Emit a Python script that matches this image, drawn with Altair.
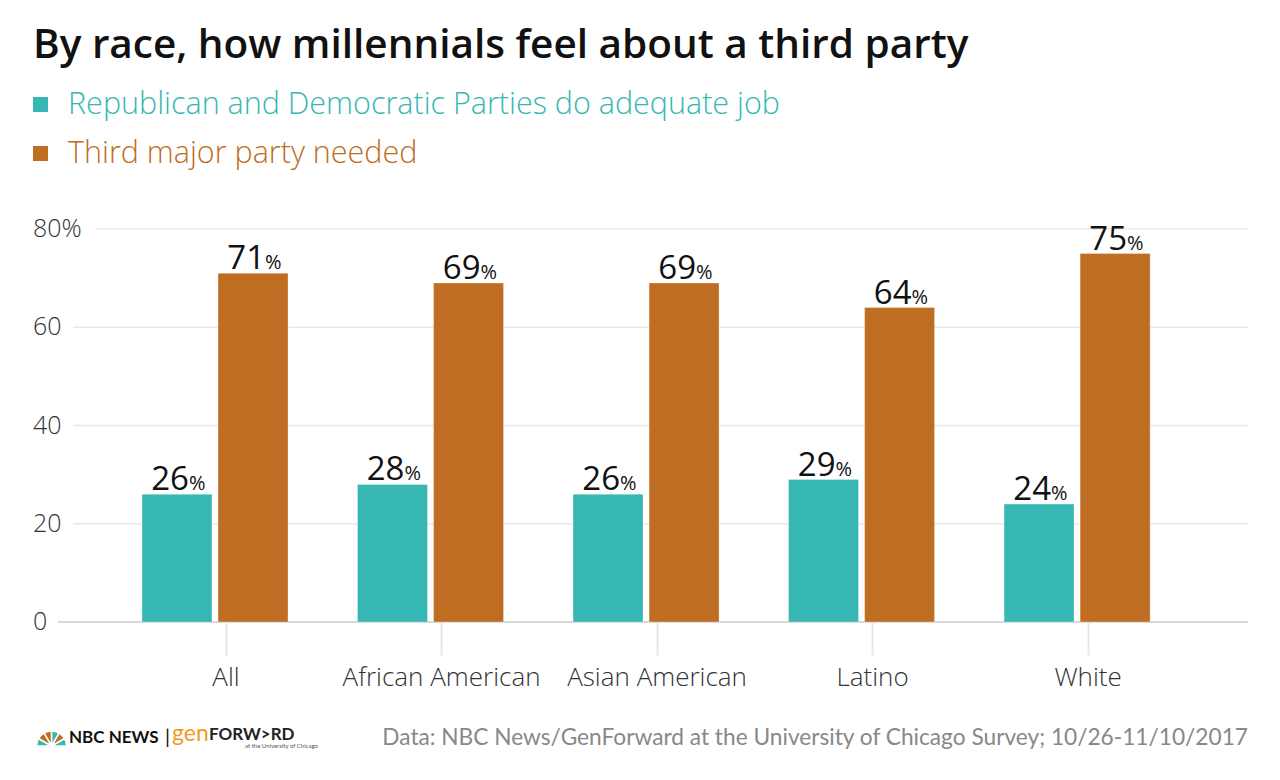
import altair as alt
import pandas as pd

categories = ["All", "African American", "Asian American", "Latino", "White"]
series = ["Republican and Democratic Parties do adequate job", "Third major party needed"]
adequate = [26, 28, 26, 29, 24]
third = [71, 69, 69, 64, 75]
colors = ["#36B7B4", "#BF6D22"]
y_ticks = [0, 20, 40, 60, 80]
y_tick_labels = ["0", "20", "40", "60", "80%"]
title_text = "By race, how millennials feel about a third party"
source_text = "Data: NBC News/GenForward at the University of Chicago Survey; 10/26-11/10/2017"
peacock_colors = ["#FCB711", "#F37021", "#CC004C", "#6460AA", "#0089D0", "#0DB14B"]

rows = []
for c, a, t in zip(categories, adequate, third):
    rows.append({"category": c, "series": series[0], "value": a})
    rows.append({"category": c, "series": series[1], "value": t})
df = pd.DataFrame(rows)
ticks_df = pd.DataFrame({"v": y_ticks, "label": y_tick_labels})
leg_df = pd.DataFrame({"series": series})
foot_df = pd.DataFrame({"src": [source_text]})
peacock_df = pd.DataFrame({"feather": peacock_colors, "w": [1] * len(peacock_colors)})

W = 1215
H = 393
FONT = "Open Sans"

yscale = alt.Scale(domain=[0, 80], nice=False, zero=True)
xscale = alt.Scale(paddingInner=0.3225, paddingOuter=0.48, align=0.58)
color_scale = alt.Scale(domain=series, range=colors)

x_enc = alt.X(
    "category:N", sort=categories, scale=xscale,
    axis=alt.Axis(title=None, labelFontSize=26, labelColor="#333333", labelFont=FONT,
                  labelFontWeight=300, labelLimit=0, ticks=True, tickSize=33,
                  tickColor="#e6e6e6", tickWidth=2, domain=False, grid=False,
                  labelPadding=9, labelAngle=0),
)
xoff = alt.XOffset("series:N", sort=series, scale=alt.Scale(paddingInner=0.08, range=[-11, 135]))
y_enc = alt.Y("value:Q", scale=yscale, axis=None)
c_enc = alt.Color("series:N", scale=color_scale, legend=None)

base_t = alt.Chart(ticks_df)
grid_top = base_t.transform_filter("datum.v == 80").mark_rule(color="#e8e8e8", strokeWidth=1.5).encode(
    y=alt.Y("v:Q", scale=yscale, axis=None), x=alt.value(62), x2=alt.value(W))
grid_mid = base_t.transform_filter("datum.v > 0 && datum.v < 80").mark_rule(color="#e8e8e8", strokeWidth=1.5).encode(
    y=alt.Y("v:Q", scale=yscale, axis=None), x=alt.value(40), x2=alt.value(W))
grid_zero = base_t.transform_filter("datum.v == 0").mark_rule(color="#d9d9d9", strokeWidth=2).encode(
    y=alt.Y("v:Q", scale=yscale, axis=None), x=alt.value(25), x2=alt.value(W))
ylabels = base_t.mark_text(align="left", baseline="middle", fontSize=25, font=FONT,
                           fontWeight=300, color="#333333").encode(
    y=alt.Y("v:Q", scale=yscale, axis=None), x=alt.value(0), text="label:N")

base = alt.Chart(df)
bars = base.mark_bar(stroke="white", strokeOpacity=0.3, strokeWidth=1).encode(
    x=x_enc, xOffset=xoff, y=y_enc, color=c_enc)
num = base.mark_text(align="right", baseline="alphabetic", dx=12, dy=-4, fontSize=33,
                     font=FONT, color="#111111").encode(
    x=x_enc, xOffset=xoff, y=y_enc, text="value:Q")
pct = base.mark_text(align="left", baseline="alphabetic", dx=12, dy=-4, fontSize=20,
                     font=FONT, color="#111111").encode(
    x=x_enc, xOffset=xoff, y=y_enc, text=alt.value("%"))

main = alt.layer(grid_top, grid_mid, grid_zero, ylabels, bars, num, pct).properties(width=W, height=H)

ly = alt.Y("series:N", sort=series, scale=alt.Scale(type="point", padding=0.5), axis=None)
lc = alt.Color("series:N", scale=color_scale, legend=None)
leg_sq = alt.Chart(leg_df).mark_square(size=225, opacity=1, filled=True).encode(
    x=alt.value(7.5), y=ly, color=lc)
leg_tx = alt.Chart(leg_df).mark_text(align="left", baseline="middle", fontSize=30.5, font=FONT,
                                     fontWeight=300).encode(
    x=alt.value(35), y=ly, text="series:N", color=lc)
legend = alt.layer(leg_sq, leg_tx).properties(width=W, height=98)

fb = alt.Chart(foot_df)
FY = 65
src = fb.mark_text(align="right", baseline="middle", fontSize=22.7, font="Lato", color="#888888").encode(
    x=alt.value(W), y=alt.value(FY), text="src:N")
peacock = alt.Chart(peacock_df).mark_arc(radius=15, innerRadius=3, stroke="white", strokeWidth=1.5).encode(
    theta=alt.Theta("w:Q", stack=True, scale=alt.Scale(range=[4.712, 7.854])),
    color=alt.Color("feather:N", scale=alt.Scale(domain=peacock_colors, range=peacock_colors), legend=None),
    order=alt.Order("feather:N", sort="ascending"),
    x=alt.value(18.5), y=alt.value(FY + 8),
)
nbc = fb.mark_text(align="left", baseline="middle", fontSize=17, font="Lato", fontWeight="bold",
                   color="#111111").encode(x=alt.value(36), y=alt.value(FY), text=alt.value("NBC NEWS"))
bar_sep = fb.mark_text(align="left", baseline="middle", fontSize=20, font="Lato",
                       color="#111111").encode(x=alt.value(132), y=alt.value(FY), text=alt.value("|"))
gen = fb.mark_text(align="left", baseline="middle", fontSize=23, font="Lato",
                   color="#F39A1E").encode(x=alt.value(139), y=alt.value(FY - 4), text=alt.value("gen"))
fwd = fb.mark_text(align="left", baseline="middle", fontSize=17, font="Lato", fontWeight="bold",
                   color="#222222").encode(x=alt.value(176), y=alt.value(FY - 3), text=alt.value("FORW>RD"))
uc = fb.mark_text(align="left", baseline="middle", fontSize=6, font="Lato",
                  color="#555555").encode(x=alt.value(212), y=alt.value(FY + 8), text=alt.value("at the University of Chicago"))
footer = alt.layer(src, peacock, nbc, bar_sep, gen, fwd, uc).properties(width=W, height=80)

chart = alt.vconcat(legend, main, footer, spacing=51, bounds="flush").properties(
    title=alt.Title(title_text, anchor="start", fontSize=40.5, font=FONT, fontWeight=600,
                    color="#111111", offset=14),
    padding={"left": 25, "top": 17, "right": 10, "bottom": 5},
).configure_view(stroke=None)

chart.save("out.html", embed_options={"renderer": "svg", "actions": False})
